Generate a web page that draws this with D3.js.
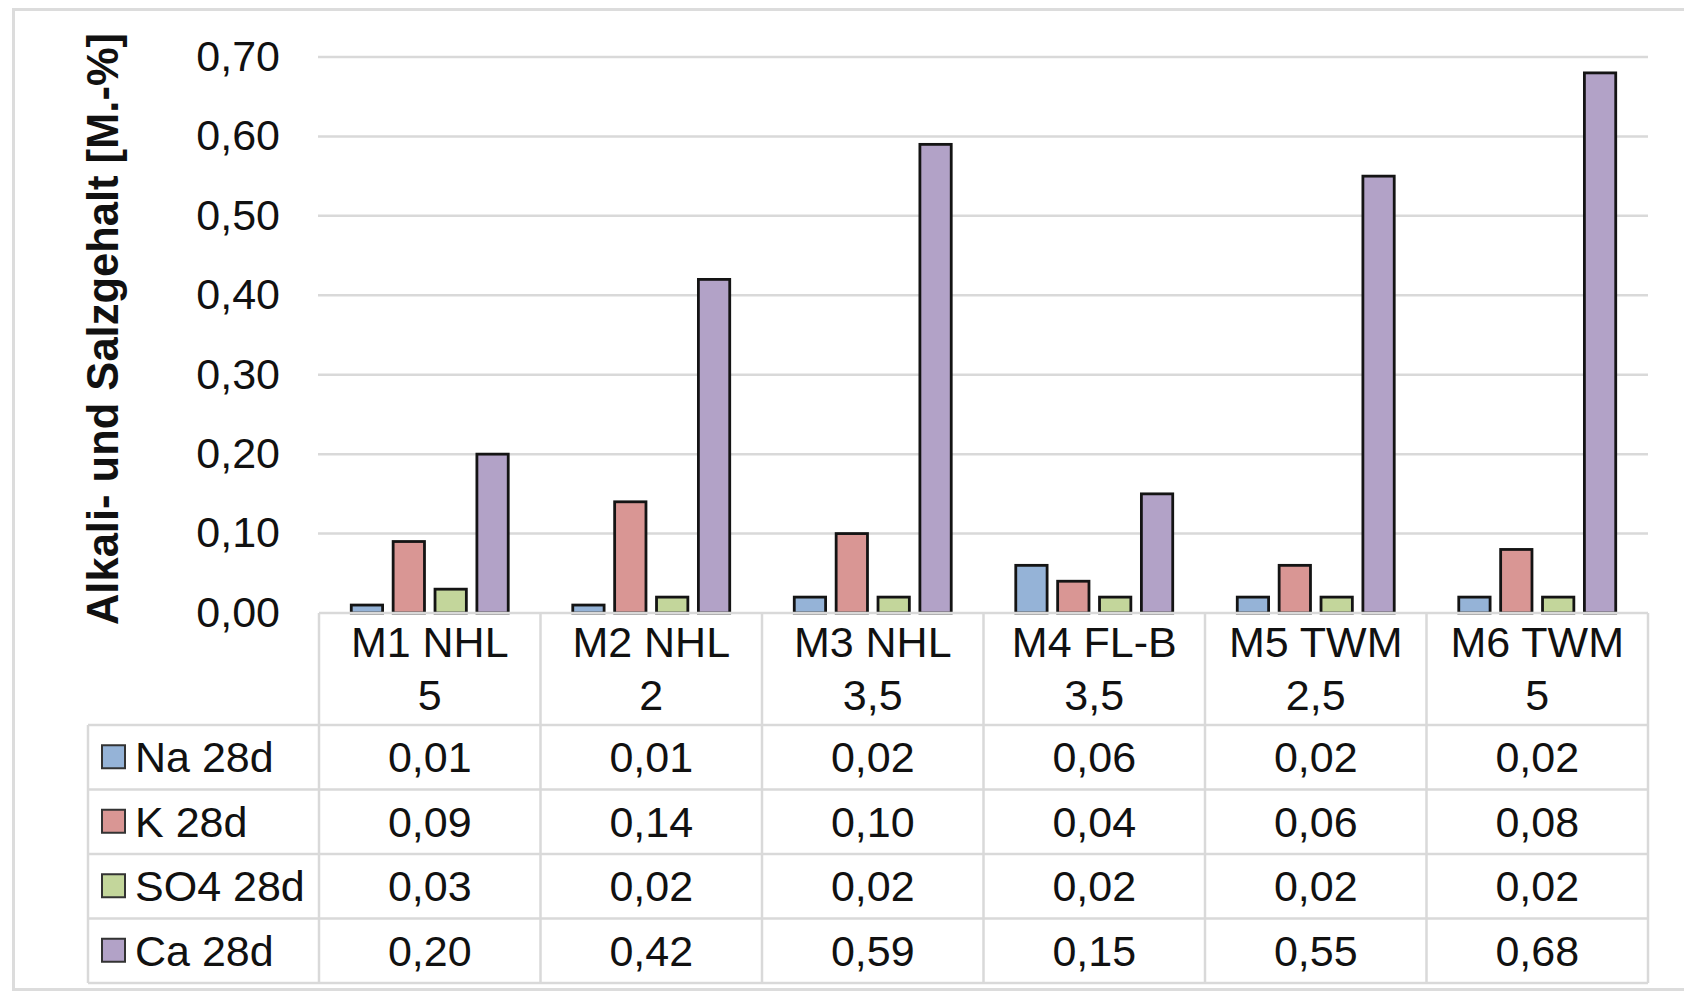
<!DOCTYPE html>
<html>
<head>
<meta charset="utf-8">
<script src="https://cdn.jsdelivr.net/npm/d3@7"></script>
<style>
  html, body { margin: 0; padding: 0; background: #fff; }
  svg { display: block; }
</style>
</head>
<body>
<svg id="chart" width="1684" height="1000"></svg>
<script>
// Sample categories (two-line header labels) and measured contents per series
const categories = [["M1 NHL", "5"], ["M2 NHL", "2"], ["M3 NHL", "3,5"], ["M4 FL-B", "3,5"], ["M5 TWM", "2,5"], ["M6 TWM", "5"]];
const seriesNames = ["Na 28d", "K 28d", "SO4 28d", "Ca 28d"];
const naValues  = [0.01, 0.01, 0.02, 0.06, 0.02, 0.02];
const kValues   = [0.09, 0.14, 0.10, 0.04, 0.06, 0.08];
const so4Values = [0.03, 0.02, 0.02, 0.02, 0.02, 0.02];
const caValues  = [0.20, 0.42, 0.59, 0.15, 0.55, 0.68];
const yTicks = [0, 0.1, 0.2, 0.3, 0.4, 0.5, 0.6, 0.7];
const yTitle = "Alkali- und Salzgehalt [M.-%]";

const seriesColors = ["#95b3d7", "#d99694", "#c3d69b", "#b2a2c7"];
const seriesValues = [naValues, kValues, so4Values, caValues];

// German number format: decimal comma
const de = d3.formatLocale({ decimal: ",", thousands: ".", grouping: [3], currency: ["", " €"] });
const fmt = de.format(".2f");

const FONT = "'Liberation Sans', Arial, Helvetica, sans-serif";
const GRID = "#d9d9d9";
const TEXT = "#111";
const FS = 43;

const svg = d3.select("#chart");
svg.append("rect").attr("width", 1684).attr("height", 1000).attr("fill", "#fff");

// Chart area frame
svg.append("rect")
  .attr("x", 13.5).attr("y", 9.5).attr("width", 1700).attr("height", 980)
  .attr("fill", "none").attr("stroke", "#dcdcdc").attr("stroke-width", 3);

// Plot geometry
const plotLeft = 319, plotRight = 1648, plotTop = 57, plotBottom = 613;
const y = d3.scaleLinear().domain([0, 0.7]).range([plotBottom, plotTop]);
const x0 = d3.scaleBand().domain(d3.range(categories.length)).range([plotLeft, plotRight]).padding(0);
const groupInset = 27;
const x1 = d3.scaleBand().domain(d3.range(seriesNames.length))
  .range([groupInset, x0.bandwidth() - groupInset])
  .paddingInner(0.185).paddingOuter(0.0925);

// Horizontal gridlines
svg.append("g").selectAll("line").data(yTicks.filter(t => t > 0)).join("line")
  .attr("x1", plotLeft - 1).attr("x2", plotRight)
  .attr("y1", d => y(d)).attr("y2", d => y(d))
  .attr("stroke", GRID).attr("stroke-width", 2.5);

// Value axis labels
const yAxis = svg.append("g").attr("transform", "translate(280,0)")
  .call(d3.axisLeft(y).tickValues(yTicks).tickFormat(fmt).tickSize(0).tickPadding(0));
yAxis.select(".domain").remove();
yAxis.selectAll("text")
  .attr("font-family", FONT).attr("font-size", FS).attr("fill", TEXT)
  .attr("dy", "0.31em");

// Axis title
svg.append("text")
  .attr("transform", `translate(118,${(33 + 625) / 2}) rotate(-90)`)
  .attr("text-anchor", "middle")
  .attr("font-family", FONT).attr("font-weight", "bold").attr("font-size", 43.5)
  .attr("fill", TEXT)
  .text(yTitle);

// Clustered bars
const groups = svg.append("g").selectAll("g").data(categories).join("g")
  .attr("transform", (d, i) => `translate(${x0(i)},0)`);
groups.selectAll("rect")
  .data((d, i) => seriesValues.map((vals, s) => ({ s, v: vals[i] })))
  .join("rect")
  .attr("x", d => x1(d.s) + 1.4)
  .attr("width", x1.bandwidth() - 2.8)
  .attr("y", d => y(d.v))
  .attr("height", d => plotBottom - y(d.v))
  .attr("fill", d => seriesColors[d.s])
  .attr("stroke", "#141414").attr("stroke-width", 2.8);

// Data table under the plot
const headerBottom = 725, tableBottom = 983, tableLeft = 88;
const rowH = (tableBottom - headerBottom) / seriesNames.length;
const table = svg.append("g").attr("stroke", GRID).attr("stroke-width", 2.5);

table.append("line").attr("x1", plotLeft).attr("x2", plotRight).attr("y1", plotBottom).attr("y2", plotBottom);
d3.range(seriesNames.length + 1).forEach(r => {
  const yy = headerBottom + r * rowH;
  table.append("line").attr("x1", tableLeft).attr("x2", plotRight).attr("y1", yy).attr("y2", yy);
});
d3.range(categories.length + 1).forEach(c => {
  const xx = plotLeft + c * x0.bandwidth();
  table.append("line").attr("x1", xx).attr("x2", xx).attr("y1", plotBottom).attr("y2", tableBottom);
});
table.append("line").attr("x1", tableLeft).attr("x2", tableLeft).attr("y1", headerBottom).attr("y2", tableBottom);

// Category header labels
const headers = svg.append("g").attr("font-family", FONT).attr("font-size", FS).attr("fill", TEXT)
  .attr("text-anchor", "middle");
categories.forEach((lines, i) => {
  const cx = x0(i) + x0.bandwidth() / 2;
  headers.append("text").attr("x", cx).attr("y", 657).text(lines[0]);
  headers.append("text").attr("x", cx).attr("y", 710).text(lines[1]);
});

// Legend keys and table values
const rows = svg.append("g").attr("font-family", FONT).attr("font-size", FS).attr("fill", TEXT);
seriesNames.forEach((name, s) => {
  const cy = headerBottom + (s + 0.5) * rowH;
  rows.append("rect")
    .attr("x", 102).attr("y", cy - 12).attr("width", 23).attr("height", 23)
    .attr("fill", seriesColors[s]).attr("stroke", "#333").attr("stroke-width", 2);
  rows.append("text").attr("x", 135).attr("y", cy + 15).text(name);
  seriesValues[s].forEach((v, i) => {
    rows.append("text")
      .attr("x", x0(i) + x0.bandwidth() / 2).attr("y", cy + 15)
      .attr("text-anchor", "middle")
      .text(fmt(v));
  });
});
</script>
</body>
</html>
